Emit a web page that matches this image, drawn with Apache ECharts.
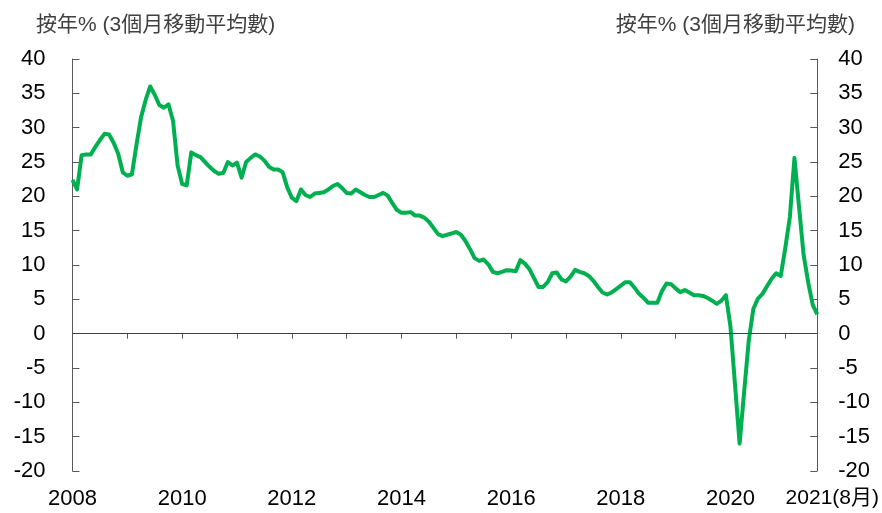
<!DOCTYPE html>
<html>
<head>
<meta charset="utf-8">
<script src="https://cdn.jsdelivr.net/npm/echarts@6/dist/echarts.min.js"></script>
<style>
  html, body { margin: 0; padding: 0; background: #fff; }
  #chart { width: 882px; height: 513px; }
</style>
</head>
<body>
<div id="chart"></div>
<script>
// 按年% (3個月移動平均數), 2008年1月 - 2021年8月
const startYear = 2008
const endYear = 2021
const endMonth = 8

const values2008 = [22.4, 21.0, 26.0, 26.1, 26.1, 27.2, 28.2, 29.1, 29.0, 27.8, 26.2, 23.5]
const values2009 = [23.0, 23.2, 27.5, 31.5, 34.0, 36.0, 34.8, 33.3, 32.9, 33.4, 31.0, 24.5]
const values2010 = [21.8, 21.6, 26.4, 26.0, 25.7, 25.0, 24.3, 23.7, 23.3, 23.4, 25.0, 24.5]
const values2011 = [24.9, 22.7, 25.0, 25.6, 26.1, 25.8, 25.2, 24.3, 23.9, 23.9, 23.5, 21.3]
const values2012 = [19.8, 19.3, 21.0, 20.2, 19.9, 20.4, 20.5, 20.6, 21.0, 21.5, 21.8, 21.2]
const values2013 = [20.5, 20.4, 21.0, 20.6, 20.2, 19.9, 19.9, 20.2, 20.5, 20.1, 19.0, 18.0]
const values2014 = [17.6, 17.6, 17.7, 17.2, 17.2, 16.9, 16.3, 15.4, 14.5, 14.2, 14.4, 14.6]
const values2015 = [14.8, 14.4, 13.5, 12.3, 11.0, 10.6, 10.8, 10.1, 9.0, 8.8, 9.0, 9.25]
const values2016 = [9.2, 9.1, 10.7, 10.2, 9.4, 8.1, 6.8, 6.8, 7.5, 8.8, 8.9, 7.9]
const values2017 = [7.6, 8.3, 9.3, 9.0, 8.8, 8.4, 7.7, 6.8, 6.0, 5.7, 6.0, 6.5]
const values2018 = [7.0, 7.5, 7.5, 6.7, 5.8, 5.2, 4.5, 4.5, 4.5, 6.2, 7.3, 7.2]
const values2019 = [6.6, 6.05, 6.35, 6.0, 5.6, 5.6, 5.5, 5.2, 4.8, 4.35, 4.8, 5.6]
const values2020 = [1.0, -7.5, -16.0, -8.4, -1.0, 3.6, 5.1, 5.8, 6.9, 8.0, 8.8, 8.4]
const values2021 = [12.5, 17.0, 25.6, 18.5, 11.5, 7.5, 4.2, 2.8]

const yearLabels = ['2008', '2010', '2012', '2014', '2016', '2018', '2020', '2021(8月)']
const axisTitle = '按年% (3個月移動平均數)'

const values = [].concat(values2008, values2009, values2010, values2011, values2012,
  values2013, values2014, values2015, values2016, values2017, values2018,
  values2019, values2020, values2021)

// month categories, e.g. 2008-01
const months = []
for (let y = startYear; y <= endYear; y++) {
  for (let m = 1; m <= 12; m++) {
    if (y === endYear && m > endMonth) break
    months.push(y + '-' + (m < 10 ? '0' + m : m))
  }
}

const font = '"Liberation Sans", Arial, "Noto Sans CJK TC", sans-serif'
const lastYearIdx = (endYear - startYear) * 12

const yAxisBase = {
  type: 'value',
  min: -20,
  max: 40,
  interval: 5,
  axisLine: { show: true, lineStyle: { color: '#595959', width: 1 } },
  axisTick: { show: true, inside: true, length: 7, lineStyle: { color: '#595959' } },
  splitLine: { show: false },
  axisLabel: { color: '#000', fontSize: 22, fontFamily: font }
}

const chart = echarts.init(document.getElementById('chart'))
chart.setOption({
  animation: false,
  title: [
    {
      text: axisTitle,
      left: 31,
      top: 10,
      textStyle: { color: '#404040', fontSize: 21, fontWeight: 'normal', fontFamily: font }
    },
    {
      text: axisTitle,
      right: 22,
      top: 10,
      textStyle: { color: '#404040', fontSize: 21, fontWeight: 'normal', fontFamily: font }
    }
  ],
  grid: { left: 72.5, right: 62, top: 59, bottom: 42 },
  xAxis: {
    type: 'category',
    data: months,
    boundaryGap: false,
    axisLine: { lineStyle: { color: '#595959', width: 1 } },
    axisTick: {
      length: 5,
      interval: idx => idx % 12 === 0,
      lineStyle: { color: '#595959' }
    },
    axisLabel: {
      interval: idx => idx % 24 === 0 || idx === lastYearIdx,
      margin: 17,
      color: '#000',
      fontSize: 22,
      fontFamily: font,
      formatter: (val, idx) => {
        if (idx === lastYearIdx) return '{last|' + yearLabels[yearLabels.length - 1] + '}'
        return yearLabels[idx / 24]
      },
      rich: {
        last: { fontSize: 21, fontFamily: font, color: '#000', padding: [0, 0, 0, 94] }
      }
    }
  },
  yAxis: [
    Object.assign({}, yAxisBase, { position: 'left', axisLabel: Object.assign({}, yAxisBase.axisLabel, { margin: 27 }) }),
    Object.assign({}, yAxisBase, { position: 'right', axisLabel: Object.assign({}, yAxisBase.axisLabel, { margin: 21 }) })
  ],
  series: [{
    type: 'line',
    data: values,
    showSymbol: false,
    lineStyle: { color: '#00b050', width: 4, join: 'round' },
    markLine: {
      silent: true,
      symbol: 'none',
      label: { show: false },
      lineStyle: { color: '#404040', width: 1, type: 'solid' },
      data: [{ yAxis: 0 }]
    }
  }]
})
</script>
</body>
</html>
